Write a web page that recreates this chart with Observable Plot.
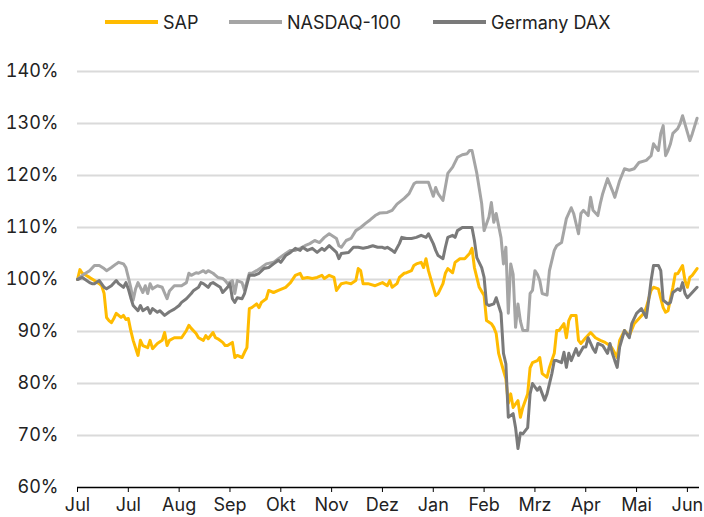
<!DOCTYPE html>
<html><head><meta charset="utf-8">
<script src="https://cdn.jsdelivr.net/npm/d3@7"></script>
<script src="https://cdn.jsdelivr.net/npm/@observablehq/plot@0.6"></script>
<style>
body{margin:0;background:#fff;font-family:Inter,"Liberation Sans",Arial,sans-serif;}
#wrap{position:relative;width:704px;height:517px;overflow:hidden;}
#legend{position:absolute;left:0;top:0;width:704px;height:40px;}
.item{position:absolute;top:11px;height:22px;display:flex;align-items:center;font-size:18px;color:#222;white-space:nowrap;}
.sw{width:53px;height:4px;margin-right:5px;}
#chart{position:absolute;left:0;top:40px;}
</style></head>
<body><div id="wrap"><div id="legend"></div><div id="chart"></div></div>
<script>
// x = trading day index since start (Jul 2019), y = performance in % (start = 100)
const monthLabels = ["Jul","Jul","Aug","Sep","Okt","Nov","Dez","Jan","Feb","Mrz","Apr","Mai","Jun"];
const tickDays = [0,21,42,63,84,105,126,147,168,189,210,231,252];
const yTicks = [60,70,80,90,100,110,120,130,140];
const seriesNames = ["SAP","NASDAQ-100","Germany DAX"];
const seriesColors = ["#ffbb00","#a5a5a5","#7a7a7a"];

const sap = [[0,100],[1,101.9],[2,101.2],[5,100.4],[7,99.8],[9,99.2],[10,98.8],[11,97.3],[12,92.7],[13,92.1],[14,91.7],[15,92.5],[16,93.5],[18,92.7],[19,93.1],[20,92.3],[21,92.5],[22,90.2],[23,88.3],[25,85.4],[26,88.3],[27,87.3],[29,86.9],[30,88.3],[31,86.7],[33,87.7],[35,88.3],[36,89.8],[37,87.3],[38,88.3],[40,88.8],[43,88.8],[45,90.2],[46,91.2],[47,90.6],[49,89.6],[50,88.8],[52,88.3],[53,89.2],[54,88.6],[56,89.8],[57,88.8],[58,88.6],[60,87.9],[61,87.3],[62,87.3],[64,87.9],[65,85],[66,85.4],[68,85],[69,86],[70,86.9],[71,94.4],[72,94.6],[74,95.3],[75,94.6],[76,95.6],[78,96.3],[79,97.9],[81,97.5],[83,97.9],[86,98.5],[88,99.4],[90,100.8],[92,101.2],[93,100.2],[95,100.4],[97,100.2],[99,100.4],[101,100.8],[102,100.2],[104,100.8],[106,100.4],[107,97.9],[109,99.2],[111,99.4],[113,99.2],[115,99.8],[116,102.1],[117,101.7],[118,99.2],[120,99.2],[123,98.8],[126,99.4],[128,98.8],[129,99.8],[130,98.5],[132,99.2],[133,100.4],[135,101.2],[136,101.3],[138,101.7],[139,102.7],[140,103],[142,103.3],[143,102.3],[144,104],[145,101.7],[147,98.5],[148,96.9],[149,97.3],[151,99.2],[152,101.2],[153,102.1],[155,101.3],[156,103.3],[158,104],[160,104],[162,105],[163,106],[164,102.3],[166,98.5],[168,96.9],[169,92.1],[171,91.5],[172,90.8],[173,89.6],[174,85.8],[176,82.5],[177,80.9],[178,76.2],[179,78],[180,75.4],[182,76.7],[183,73.5],[184,75.4],[186,78],[187,83],[188,84],[190,84.4],[191,85],[192,81.9],[194,81.2],[195,83.1],[197,85.8],[198,90.2],[199,90.2],[201,91.5],[202,88.8],[203,92.1],[204,93.1],[206,93.1],[207,88.3],[208,87.7],[210,88.8],[212,89.8],[214,88.8],[216,88.3],[218,87.9],[220,87.3],[221,86.7],[223,85],[224,88.3],[226,90.2],[228,89.2],[230,91.5],[232,92.5],[234,93.5],[235,94.6],[237,97.9],[238,98.5],[240,98.2],[242,94.6],[243,93.7],[244,94],[246,98.5],[247,101.1],[248,101.1],[250,102.7],[251,99.8],[252,98.5],[253,100.4],[254,100.8],[256,102.1]];

const nasdaq = [[0,100],[2,100.8],[5,101.7],[7,102.7],[9,102.7],[11,102.1],[12,101.7],[14,102.3],[16,103],[17,103.3],[19,103],[20,102.3],[21,100.4],[22,98.5],[23,96],[24,98.2],[25,99.4],[27,97.5],[28,98.8],[29,97.3],[30,99.2],[31,98.2],[33,98.8],[35,98.5],[37,96.3],[38,97.8],[40,98.8],[43,98.8],[45,99.4],[46,101.2],[47,100.8],[49,101.3],[50,101.2],[52,101.7],[53,101.3],[54,101.7],[56,101.2],[57,100.8],[58,100.4],[60,100.2],[61,99.8],[62,99.2],[64,99.8],[65,97.3],[66,99.8],[68,99.4],[69,97.9],[71,101.2],[72,101.2],[74,101.7],[76,102.3],[78,103],[81,103.3],[83,104],[86,105],[88,105.6],[90,105.6],[92,106],[94,106.5],[96,106.9],[98,107.5],[100,107.1],[102,108.1],[104,108.8],[107,107.9],[108,106.5],[109,106.2],[111,107.5],[113,107.9],[115,109.4],[117,110],[119,110.8],[121,111.5],[123,112.3],[125,112.8],[128,112.9],[130,113.3],[132,114.5],[135,115.6],[137,116.5],[139,118.4],[140,118.7],[142,118.7],[145,118.7],[147,116],[148,117.7],[149,116.5],[151,115.2],[153,120.4],[155,121.6],[157,123.5],[159,124],[161,124.2],[162,124.8],[163,124.8],[165,120.4],[167,114.6],[168,109.4],[170,112],[171,114.8],[172,111],[173,112.7],[175,108],[176,103],[177,106.2],[178,93.5],[179,103],[180,101],[181,90.8],[182,95.3],[183,92],[184,90.2],[186,90.2],[187,97.3],[188,97.9],[189,101.7],[190,101],[191,99.8],[192,97.3],[194,97],[195,101.7],[197,105.6],[198,106.5],[200,107.1],[202,111.7],[204,113.8],[205,112.7],[207,108.8],[208,112.7],[209,113.3],[211,112.3],[212,115.8],[213,113.3],[215,112.3],[216,114.6],[217,116.5],[219,119.4],[221,117.1],[222,115.8],[224,119],[226,121.3],[228,121],[230,121.3],[232,122.5],[235,122.9],[237,123.8],[238,126.1],[240,124.8],[241,128.1],[242,129.6],[243,123.8],[244,124.8],[245,126.1],[246,128.1],[248,129],[249,130],[250,131.5],[252,128.3],[253,126.7],[254,128],[256,131]];

const dax = [[0,100],[2,100.4],[5,99.4],[6,99.2],[7,99.2],[9,99.8],[11,98.5],[12,98.2],[14,98.8],[16,99.8],[17,99.2],[19,98.5],[20,99.4],[21,98.2],[22,96.5],[23,95],[25,94],[26,95],[27,94],[29,94.6],[30,93.5],[31,94.4],[33,93.7],[34,94],[36,93.1],[38,93.8],[40,94.3],[42,95],[43,95.6],[45,96.3],[47,97.3],[48,97.9],[50,98.5],[51,99.4],[52,99.2],[54,98.5],[55,99.2],[56,99.4],[58,98.8],[59,98.5],[60,97.5],[62,98.5],[63,99.2],[64,96.3],[65,95.6],[66,96.5],[68,96.3],[69,97.3],[71,100.8],[73,100.8],[75,101.2],[77,102.1],[79,102.3],[81,103],[83,103.7],[84,103.3],[86,104.6],[88,105.2],[90,106],[92,105.6],[93,106.2],[95,105.6],[97,106],[99,105.2],[101,106],[102,105.6],[104,106.5],[107,105.2],[108,104],[109,105],[112,105.2],[114,106.2],[116,106.2],[118,106],[120,106.2],[122,106.5],[124,106.2],[126,106.2],[127,106],[128,106.2],[130,105.6],[131,105.2],[133,106.9],[134,108.1],[136,107.9],[138,107.9],[140,108.1],[142,108.5],[144,108.1],[145,108.8],[147,106.9],[148,105.6],[149,104.6],[151,104],[152,106.2],[153,108.1],[155,108.5],[156,108.1],[157,109.4],[159,110],[161,110],[163,110],[164,107.5],[165,104.2],[167,102.3],[168,100.4],[169,95.3],[170,95],[172,95.3],[173,96.5],[175,93.5],[176,85.8],[177,83.8],[178,73.5],[180,74.2],[181,71.5],[182,67.5],[183,70.5],[184,70.3],[186,71.5],[187,78],[188,80],[190,78.7],[191,79.3],[193,76.8],[194,78],[196,81.9],[197,84.4],[198,84.4],[200,84],[201,86],[202,83.1],[203,85.8],[204,84.4],[206,86.7],[207,85.4],[209,87],[210,87],[211,88.8],[213,86.7],[214,86],[215,87.7],[217,87.3],[219,85.8],[220,87.7],[221,85.8],[222,84.4],[223,83.1],[224,87],[226,90.2],[228,88.8],[229,91.5],[231,93.5],[233,94.4],[235,92.7],[236,96],[237,99.8],[238,102.7],[240,102.7],[241,101.7],[242,96],[244,95.3],[245,95.6],[246,97.5],[248,98.2],[249,97.9],[250,99.4],[251,97.3],[252,96.5],[254,97.5],[256,98.5]];

const seriesData = [sap, nasdaq, dax];
const rows = seriesData.flatMap((arr, k) => arr.map(([day, value]) => ({series: seriesNames[k], day, value})));
const labelOf = new Map(tickDays.map((d, i) => [d, monthLabels[i]]));

const legend = document.getElementById("legend");
const legendLeft = [105, 229, 433];
seriesNames.forEach((n, i) => {
  const it = document.createElement("div");
  it.className = "item";
  it.style.left = legendLeft[i] + "px";
  it.innerHTML = `<span class="sw" style="background:${seriesColors[i]}"></span><span>${n}</span>`;
  legend.appendChild(it);
});

const chart = Plot.plot({
  width: 704,
  height: 477,
  marginLeft: 77,
  marginRight: 5,
  marginTop: 31,
  marginBottom: 30,
  style: {fontFamily: "Inter, 'Liberation Sans', Arial, sans-serif", fontSize: "18px", color: "#222", background: "#fff"},
  x: {domain: [0, 257], label: null},
  y: {domain: [60, 140], label: null},
  color: {domain: seriesNames, range: seriesColors},
  marks: [
    Plot.ruleY(yTicks.filter(d => d > 60), {stroke: "#dadada", strokeWidth: 2}),
    Plot.line(rows, {x: "day", y: "value", z: "series", stroke: "series", strokeWidth: 3, strokeLinejoin: "round", curve: "linear"}),
    Plot.ruleY([60], {stroke: "#000", strokeWidth: 1.5}),
    Plot.axisX({ticks: tickDays, tickFormat: d => labelOf.get(d), tickSize: 5, tickPadding: 6, stroke: "#000", fontSize: 18, label: null}),
    Plot.axisY({ticks: yTicks, tickFormat: d => d + "%", tickSize: 0, tickPadding: 19, fontSize: 18, label: null})
  ]
});
document.getElementById("chart").appendChild(chart);
</script></body></html>
